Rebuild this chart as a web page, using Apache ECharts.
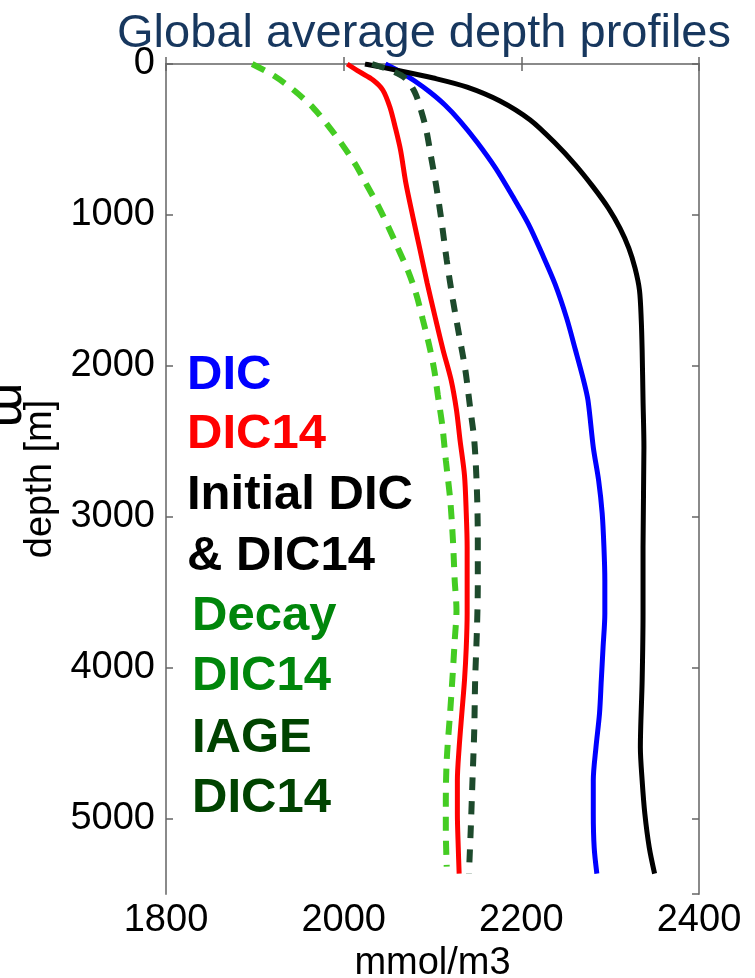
<!DOCTYPE html>
<html>
<head>
<meta charset="utf-8">
<script src="https://cdn.jsdelivr.net/npm/echarts@6/dist/echarts.min.js"></script>
<style>
html,body{margin:0;padding:0;background:#fff;}
#chart{width:755px;height:978px;}
</style>
</head>
<body>
<div id="chart"></div>
<script>
// ---- data (mmol/m3 vs depth in m) ----
var xTicks = [1800, 2000, 2200, 2400];
var yTicks = [0, 1000, 2000, 3000, 4000, 5000];

var dicDepth = [0, 53, 113, 186, 272, 378, 517, 690, 875, 1061, 1253, 1459, 1684, 1897, 2095, 2228, 2540, 2759, 2977, 3203, 3422, 3641, 3866, 4085, 4304, 4529, 4748, 4967, 5192, 5365];
var dicValues = [2047, 2064, 2080, 2097, 2114, 2131, 2150, 2171, 2190, 2208, 2223, 2238, 2251, 2261, 2270, 2275, 2281, 2287, 2291, 2293, 2294, 2294, 2292, 2290, 2288, 2284, 2281, 2281, 2282, 2285];

var dic14Depth = [0, 53, 106, 172, 285, 418, 570, 789, 1015, 1233, 1452, 1678, 1897, 2095, 2294, 2493, 2725, 2977, 3203, 3422, 3641, 3866, 4085, 4304, 4529, 4748, 4967, 5192, 5365];
var dic14Values = [2004, 2018, 2033, 2044, 2052, 2058, 2064, 2070, 2078, 2086, 2094, 2103, 2112, 2121, 2127, 2131, 2136, 2138, 2139, 2139, 2139, 2138, 2136, 2133, 2130, 2128, 2128, 2129, 2130];

var initDepth = [0, 46, 93, 153, 245, 371, 524, 670, 816, 955, 1088, 1220, 1353, 1499, 1698, 1897, 2228, 2540, 3203, 3641, 4085, 4529, 4748, 4967, 5192, 5365];
var initValues = [2024, 2064, 2101, 2139, 2176, 2210, 2238, 2261, 2281, 2298, 2311, 2321, 2328, 2333, 2335, 2336, 2337, 2338, 2337, 2337, 2336, 2334, 2336, 2339, 2344, 2350];

var decayDepth = [0, 80, 179, 292, 405, 531, 663, 802, 942, 1088, 1233, 1379, 1532, 1691, 1857, 2029, 2195, 2394, 2626, 2891, 3156, 3422, 3621, 3820, 4019, 4284, 4615, 4881, 5080, 5318];
var decayValues = [1897, 1922, 1945, 1966, 1982, 1998, 2013, 2026, 2039, 2051, 2062, 2073, 2082, 2089, 2096, 2102, 2106, 2111, 2115, 2120, 2123, 2125, 2127, 2125, 2123, 2120, 2116, 2115, 2115, 2116];

var iageDepth = [0, 40, 93, 186, 305, 438, 603, 802, 1034, 1300, 1565, 1797, 2029, 2261, 2493, 2825, 3156, 3455, 3753, 4085, 4416, 4748, 5080, 5365];
var iageValues = [2032, 2052, 2069, 2080, 2087, 2093, 2098, 2104, 2110, 2116, 2123, 2130, 2137, 2142, 2147, 2150, 2151, 2151, 2150, 2148, 2147, 2145, 2143, 2141];

var legendLabels = ['DIC', 'DIC14', 'Initial DIC', '& DIC14', 'Decay', 'DIC14', 'IAGE', 'DIC14'];
var legendColors = ['#0000ff', '#ff0000', '#000000', '#000000', '#00860b', '#00860b', '#004300', '#004300'];

var titleText = 'Global average depth profiles';
var xName = 'mmol/m3';
var yName = 'depth [m]';

// ---- build ----
function pairs(vals, depths) {
  var out = [];
  for (var i = 0; i < vals.length; i++) out.push([vals[i], depths[i]]);
  return out;
}

var FONT = 'Liberation Sans, Arial, Helvetica, sans-serif';
var axisColor = '#8a8a8a';

var chart = echarts.init(document.getElementById('chart'), null, {renderer: 'canvas'});

var gridTop = 64, gridLeft = 166, gridRight = 56, gridBottom = 84;

var legendGraphics = legendLabels.map(function (t, i) {
  var lefts = [187, 187, 187, 187, 192, 192, 192, 192];
  var centers = [377, 436, 497, 558, 618, 678, 740, 800];
  return {
    type: 'text',
    left: lefts[i],
    top: centers[i] - 26,
    silent: true,
    style: {
      text: t,
      fill: legendColors[i],
      font: 'bold 49px ' + FONT
    }
  };
});

legendGraphics.push({
  type: 'text',
  x: 8, y: 405,
  rotation: -Math.PI / 2,
  silent: true,
  style: {
    text: 'm',
    fill: '#000',
    font: '54px ' + FONT,
    align: 'center',
    verticalAlign: 'middle'
  }
});

var mainAxisCommon = {
  axisLine: {show: true, lineStyle: {color: axisColor, width: 2}},
  axisTick: {show: true, inside: true, length: 7, lineStyle: {color: '#666', width: 1.5}},
  splitLine: {show: false}
};

var option = {
  animation: false,
  backgroundColor: '#ffffff',
  title: {
    text: titleText,
    left: 112,
    top: 6,
    textStyle: {fontSize: 47, fontWeight: 'normal', color: '#17375e', fontFamily: FONT}
  },
  grid: {left: gridLeft, right: gridRight, top: gridTop, bottom: gridBottom, containLabel: false, outerBoundsMode: 'none'},
  xAxis: [
    Object.assign({}, mainAxisCommon, {
      type: 'value', position: 'bottom',
      min: xTicks[0], max: xTicks[xTicks.length - 1], interval: xTicks[1] - xTicks[0],
      name: xName, nameLocation: 'middle', nameGap: 46,
      nameTextStyle: {fontSize: 38, color: '#000', fontFamily: FONT},
      axisLabel: {show: true, fontSize: 38, color: '#000', fontFamily: FONT, margin: 8,
        showMinLabel: true, showMaxLabel: true,
        formatter: function (v) { return String(v); }}
    }),
    Object.assign({}, mainAxisCommon, {
      type: 'value', position: 'top',
      min: xTicks[0], max: xTicks[xTicks.length - 1], interval: xTicks[1] - xTicks[0],
      axisLabel: {show: false}
    })
  ],
  yAxis: [
    Object.assign({}, mainAxisCommon, {
      type: 'value', position: 'left', inverse: true,
      min: 0, max: 5500, interval: yTicks[1] - yTicks[0],
      name: yName, nameLocation: 'middle', nameGap: 104, nameRotate: 90,
      nameTextStyle: {fontSize: 38, color: '#000', fontFamily: FONT},
      axisLabel: {show: true, fontSize: 38, color: '#000', fontFamily: FONT, margin: 11,
        showMaxLabel: false,
        formatter: function (v) { return yTicks.indexOf(v) >= 0 ? String(v) : ''; }}
    }),
    Object.assign({}, mainAxisCommon, {
      type: 'value', position: 'right', inverse: true,
      min: 0, max: 5500, interval: yTicks[1] - yTicks[0],
      axisLabel: {show: false}
    })
  ],
  series: [
    {name: 'DIC', type: 'line', data: pairs(dicValues, dicDepth), showSymbol: false, symbol: 'none', smooth: 0.3,
      lineStyle: {color: '#0000ff', width: 5}, z: 2},
    {name: 'Initial DIC & DIC14', type: 'line', data: pairs(initValues, initDepth), showSymbol: false, symbol: 'none', smooth: 0.3,
      lineStyle: {color: '#000000', width: 5}, z: 3},
    {name: 'DIC14', type: 'line', data: pairs(dic14Values, dic14Depth), showSymbol: false, symbol: 'none', smooth: 0.3,
      lineStyle: {color: '#ff0000', width: 5}, z: 4},
    {name: 'Decay DIC14', type: 'line', data: pairs(decayValues, decayDepth), showSymbol: false, symbol: 'none', smooth: 0.3,
      lineStyle: {color: '#44cc22', width: 6, type: [14, 10]}, z: 5},
    {name: 'IAGE DIC14', type: 'line', data: pairs(iageValues, iageDepth), showSymbol: false, symbol: 'none', smooth: 0.3,
      lineStyle: {color: '#1d4a2c', width: 6, type: [13, 11]}, z: 6}
  ],
  graphic: legendGraphics
};

chart.setOption(option);
</script>
</body>
</html>
